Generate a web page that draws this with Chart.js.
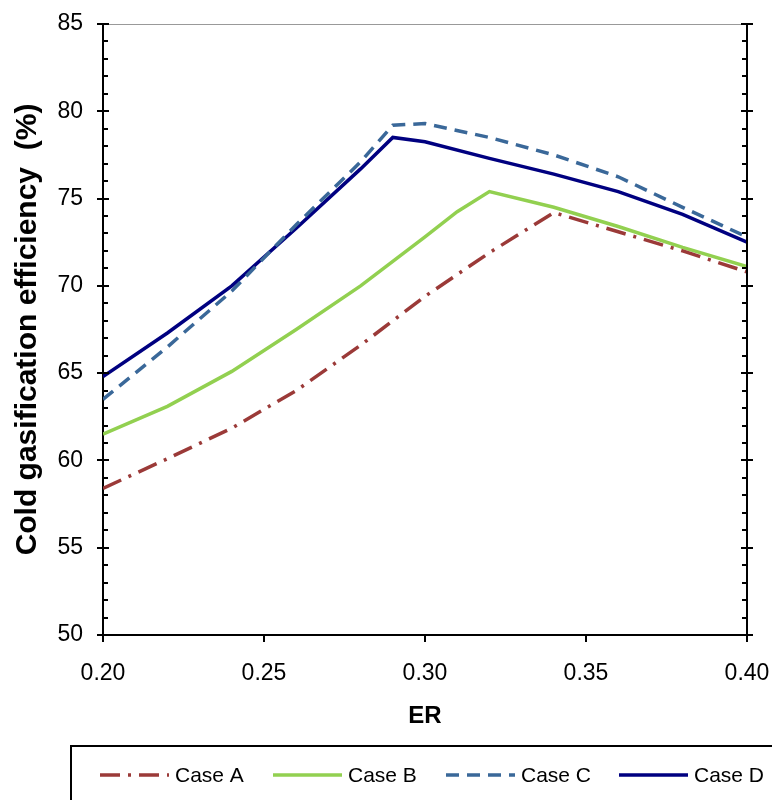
<!DOCTYPE html>
<html>
<head>
<meta charset="utf-8">
<script src="https://cdn.jsdelivr.net/npm/chart.js@4"></script>
<style>
  body { margin: 0; background: #fff; }
  canvas { display: block; }
</style>
</head>
<body>
<canvas id="myChart" width="772" height="800"></canvas>
<script>
"use strict";

// ER values (x), one shared list; null = no point on that series
const er = [0.20, 0.22, 0.24, 0.26, 0.28, 0.29, 0.30, 0.31, 0.32, 0.34, 0.36, 0.38, 0.40];

const caseA = [58.4, 60.1, 61.85, 64.0, 66.6, null, 69.4, null, 71.9, 74.2, 73.1, 72.0, 70.8];
const caseB = [61.5, 63.1, 65.1, 67.5, 70.0, null, 72.8, 74.25, 75.4, 74.5, 73.4, 72.2, 71.1];
const caseC = [63.5, 66.5, 69.7, 73.5, 77.1, 79.2, 79.3, null, 78.5, 77.5, 76.25, 74.5, 72.8];
const caseD = [64.8, 67.3, 70.0, 73.3, 76.7, 78.5, 78.25, null, 77.3, 76.4, 75.4, 74.1, 72.5];

const labels = ["Case A", "Case B", "Case C", "Case D"];
const xTicks = [0.20, 0.25, 0.30, 0.35, 0.40];

const FONT = 'Arial, "Liberation Sans", sans-serif';

function toPoints(values) {
    return er.map((x, i) => ({ x: x, y: values[i] })).filter(p => p.y !== null);
}

// y axis ticks (major crossing, minor inside) on both sides, gray top line
const axisTicks = {
    id: "axisTicks",
    afterDraw(chart) {
        const ctx = chart.ctx;
        const area = chart.chartArea;
        const y = chart.scales.y;
        ctx.save();
        ctx.strokeStyle = "#999";
        ctx.lineWidth = 1;
        ctx.beginPath();
        ctx.moveTo(area.left, area.top + 0.5);
        ctx.lineTo(area.right, area.top + 0.5);
        ctx.stroke();

        ctx.strokeStyle = "#000";
        ctx.lineWidth = 2;
        ctx.beginPath();
        ctx.moveTo(area.right, area.top);
        ctx.lineTo(area.right, area.bottom);
        for (let v = 50; v <= 85; v++) {
            const py = Math.round(y.getPixelForValue(v));
            if (v % 5 === 0) {
                ctx.moveTo(area.left - 6, py);
                ctx.lineTo(area.left + 6, py);
                ctx.moveTo(area.right - 6, py);
                ctx.lineTo(area.right + 6, py);
            } else {
                ctx.moveTo(area.left, py);
                ctx.lineTo(area.left + 5, py);
                ctx.moveTo(area.right - 5, py);
                ctx.lineTo(area.right, py);
            }
        }
        ctx.stroke();
        ctx.restore();
    }
};

// legend in a box at the bottom
const boxLegend = {
    id: "boxLegend",
    afterDraw(chart) {
        const ctx = chart.ctx;
        ctx.save();
        ctx.strokeStyle = "#000";
        ctx.lineWidth = 2;
        ctx.strokeRect(71, 746, 760, 100);

        const yy = 775;
        chart.data.datasets.forEach((ds, i) => {
            const x0 = 100 + i * 173;
            ctx.strokeStyle = ds.borderColor;
            ctx.lineWidth = ds.borderWidth;
            ctx.setLineDash(ds.borderDash || []);
            ctx.beginPath();
            ctx.moveTo(x0, yy);
            ctx.lineTo(x0 + 69, yy);
            ctx.stroke();
            ctx.setLineDash([]);
            ctx.fillStyle = "#000";
            ctx.font = "21px " + FONT;
            ctx.textBaseline = "middle";
            ctx.fillText(ds.label, x0 + 75, yy + 1);
        });
        ctx.restore();
    }
};

new Chart(document.getElementById("myChart"), {
    type: "line",
    data: {
        datasets: [
            { label: labels[0], data: toPoints(caseA), borderColor: "#9B3A38", borderWidth: 3.5, borderDash: [20, 8, 3, 8] },
            { label: labels[1], data: toPoints(caseB), borderColor: "#92D050", borderWidth: 3.5 },
            { label: labels[2], data: toPoints(caseC), borderColor: "#3A6899", borderWidth: 3.5, borderDash: [13, 8] },
            { label: labels[3], data: toPoints(caseD), borderColor: "#000080", borderWidth: 3.5 }
        ]
    },
    options: {
        responsive: false,
        animation: false,
        devicePixelRatio: 1,
        layout: { padding: { top: 24, right: 25, bottom: 65, left: 0 } },
        elements: { point: { radius: 0 }, line: { tension: 0 } },
        plugins: { legend: { display: false }, tooltip: { enabled: false } },
        scales: {
            x: {
                type: "linear",
                min: 0.2,
                max: 0.4,
                afterBuildTicks: scale => { scale.ticks = xTicks.map(v => ({ value: v })); },
                afterFit: scale => {
                    scale.height = 100;
                    scale.paddingLeft = 0;
                    scale.paddingRight = 0;
                },
                ticks: {
                    color: "#000",
                    font: { family: FONT, size: 23 },
                    padding: 18,
                    maxRotation: 0,
                    callback: v => Number(v).toFixed(2)
                },
                grid: { drawOnChartArea: false, drawTicks: true, tickLength: 7, color: "#000", lineWidth: 2 },
                border: { color: "#000", width: 2 },
                title: {
                    display: true,
                    text: "ER",
                    color: "#000",
                    font: { family: FONT, size: 24, weight: "bold" },
                    padding: { top: 0, bottom: 4 }
                }
            },
            y: {
                min: 50,
                max: 85,
                afterFit: scale => {
                    scale.width = 103;
                    scale.paddingTop = 0;
                    scale.paddingBottom = 0;
                },
                ticks: {
                    stepSize: 5,
                    color: "#000",
                    font: { family: FONT, size: 23 },
                    padding: 20
                },
                grid: { drawOnChartArea: false, drawTicks: false },
                border: { color: "#000", width: 2 },
                title: {
                    display: true,
                    text: "Cold gasification efficiency  (%)",
                    color: "#000",
                    font: { family: FONT, size: 30, weight: "bold" },
                    padding: { top: 10, bottom: 0 }
                }
            }
        }
    },
    plugins: [axisTicks, boxLegend]
});
</script>
</body>
</html>
